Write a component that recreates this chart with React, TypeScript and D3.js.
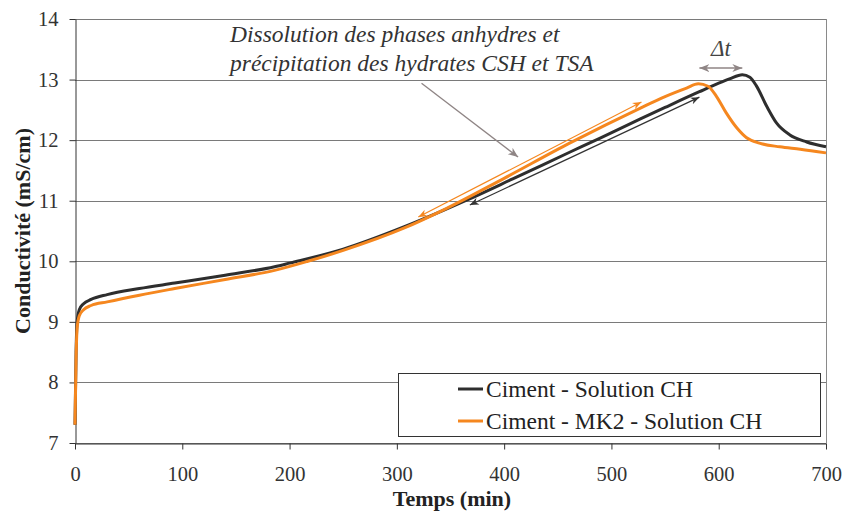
import { useEffect, useRef } from 'react';
import * as d3 from 'd3';

// Ciment - Solution CH
const timeCH = [0, 1, 2, 4, 8, 15, 30, 60, 93, 140, 186, 200, 250, 307, 346, 364, 408, 461, 489, 527, 550, 582, 600, 610, 622, 629, 635, 645, 654, 666, 682, 700];
const condCH = [7.3, 8.5, 9.0, 9.2, 9.3, 9.37, 9.45, 9.55, 9.64, 9.77, 9.91, 9.97, 10.2, 10.57, 10.86, 11.0, 11.36, 11.8, 12.03, 12.35, 12.54, 12.8, 12.94, 13.01, 13.08, 13.04, 12.9, 12.55, 12.28, 12.09, 11.97, 11.89];

// Ciment - MK2 - Solution CH
const timeMK2 = [0, 1, 2, 4, 8, 15, 30, 60, 93, 140, 186, 217, 250, 307, 346, 400, 461, 527, 550, 570, 581, 590, 598, 607, 617, 626, 638, 657, 676, 700];
const condMK2 = [7.3, 8.4, 8.9, 9.1, 9.2, 9.27, 9.33, 9.44, 9.55, 9.7, 9.85, 10.0, 10.18, 10.55, 10.87, 11.37, 11.95, 12.53, 12.72, 12.86, 12.93, 12.89, 12.72, 12.45, 12.2, 12.04, 11.95, 11.89, 11.85, 11.79];

const xTicks = [0, 100, 200, 300, 400, 500, 600, 700];
const yTicks = [7, 8, 9, 10, 11, 12, 13, 14];

const seriesNames = ['Ciment - Solution CH', 'Ciment - MK2 - Solution CH'];
const seriesColors = ['#2e2e2e', '#f5871f'];

const noteLines = ['Dissolution des phases anhydres et', 'précipitation des hydrates CSH et TSA'];

export default function App() {
  const svgRef = useRef<SVGSVGElement>(null);

  useEffect(() => {
    if (!svgRef.current) return;
    const svg = d3.select(svgRef.current);
    svg.selectAll('*').remove();

    const width = 844;
    const height = 513;
    const margin = { top: 19, right: 18, bottom: 70, left: 75 };

    const x = d3.scaleLinear().domain([0, 700]).range([margin.left, width - margin.right]);
    const y = d3.scaleLinear().domain([7, 14]).range([height - margin.bottom, margin.top]);

    const defs = svg.append('defs');
    const addMarker = (id: string, color: string, size: number) => {
      defs.append('marker')
        .attr('id', id)
        .attr('viewBox', '0 -5 10 10')
        .attr('refX', 10)
        .attr('refY', 0)
        .attr('markerWidth', size)
        .attr('markerHeight', size)
        .attr('markerUnits', 'userSpaceOnUse')
        .attr('orient', 'auto-start-reverse')
        .append('path')
        .attr('d', 'M0,-4L10,0L0,4L3,0Z')
        .attr('fill', color);
    };
    addMarker('arr-gray', '#8f8585', 10);
    addMarker('arr-orange', seriesColors[1], 9);
    addMarker('arr-black', '#333', 9);

    // gridlines
    svg.append('g')
      .selectAll('line')
      .data(yTicks)
      .join('line')
      .attr('x1', x(0))
      .attr('x2', x(700))
      .attr('y1', d => Math.round(y(d)) + 0.5)
      .attr('y2', d => Math.round(y(d)) + 0.5)
      .attr('stroke', '#7a7a7a')
      .attr('stroke-width', 1);

    // right border
    svg.append('line')
      .attr('x1', Math.round(x(700)) + 0.5)
      .attr('x2', Math.round(x(700)) + 0.5)
      .attr('y1', y(14))
      .attr('y2', y(7))
      .attr('stroke', '#8a8a8a');

    // axes
    const xAxis = svg.append('g')
      .attr('transform', `translate(0,${Math.round(y(7)) + 0.5})`)
      .call(d3.axisBottom(x).tickValues(xTicks).tickFormat(d3.format('d')).tickSize(6).tickSizeOuter(0).tickPadding(17));
    const yAxis = svg.append('g')
      .attr('transform', `translate(${Math.round(x(0)) + 0.5},0)`)
      .call(d3.axisLeft(y).tickValues(yTicks).tickFormat(d3.format('d')).tickSize(6).tickSizeOuter(0).tickPadding(11));
    [xAxis, yAxis].forEach(g => {
      g.attr('font-family', null).attr('font-size', null);
      g.select('.domain').attr('stroke', '#333');
      g.selectAll('.tick line').attr('stroke', '#333');
      g.selectAll('.tick text')
        .attr('fill', '#333')
        .style('font-size', '20.5px');
    });

    // curves
    const line = d3.line<[number, number]>()
      .x(d => x(d[0]))
      .y(d => y(d[1]))
      .curve(d3.curveMonotoneX);
    const series = [
      timeCH.map((t, i) => [t, condCH[i]] as [number, number]),
      timeMK2.map((t, i) => [t, condMK2[i]] as [number, number]),
    ];
    series.forEach((s, i) => {
      svg.append('path')
        .datum(s)
        .attr('d', line)
        .attr('fill', 'none')
        .attr('stroke', seriesColors[i])
        .attr('stroke-width', 3)
        .attr('stroke-linejoin', 'round');
    });

    // annotation arrows (data coordinates)
    const arrow = (p: [number, number, number, number], color: string, id: string, w: number, both: boolean) => {
      const l = svg.append('line')
        .attr('x1', x(p[0])).attr('y1', y(p[1]))
        .attr('x2', x(p[2])).attr('y2', y(p[3]))
        .attr('stroke', color)
        .attr('stroke-width', w)
        .attr('marker-end', `url(#${id})`);
      if (both) l.attr('marker-start', `url(#${id})`);
    };
    arrow([323, 12.94, 413, 11.72], '#8f8585', 'arr-gray', 1.3, false);
    arrow([320, 10.73, 528, 12.63], seriesColors[1], 'arr-orange', 1.2, true);
    arrow([368, 10.93, 582, 12.71], '#333', 'arr-black', 1.2, true);
    arrow([582, 13.19, 622, 13.19], '#8f8585', 'arr-gray', 1.5, true);

    svg.append('text')
      .attr('x', x(602))
      .attr('y', 56)
      .attr('text-anchor', 'middle')
      .style('font-style', 'italic')
      .style('font-size', '23px')
      .attr('fill', '#444')
      .text('Δt');

    svg.append('g')
      .selectAll('text')
      .data(noteLines)
      .join('text')
      .attr('x', 230)
      .attr('y', (_, i) => 42 + i * 29)
      .style('font-style', 'italic')
      .style('font-size', '23.5px')
      .attr('fill', '#333')
      .text(d => d);

    // legend
    const lg = svg.append('g').attr('transform', 'translate(398,373)');
    lg.append('rect')
      .attr('x', 0.5).attr('y', 0.5)
      .attr('width', 422).attr('height', 63)
      .attr('fill', 'white')
      .attr('stroke', '#333');
    seriesNames.forEach((name, i) => {
      const row = lg.append('g').attr('transform', `translate(0,${16 + i * 32})`);
      row.append('line')
        .attr('x1', 60).attr('x2', 85)
        .attr('stroke', seriesColors[i])
        .attr('stroke-width', 3);
      row.append('text')
        .attr('x', 88)
        .attr('y', 8)
        .style('font-size', '23.5px')
        .attr('fill', '#222')
        .text(name);
    });

    // axis titles
    svg.append('text')
      .attr('x', 452)
      .attr('y', 506)
      .attr('text-anchor', 'middle')
      .style('font-weight', 'bold')
      .style('font-size', '22px')
      .attr('fill', '#222')
      .text('Temps (min)');

    svg.append('text')
      .attr('transform', `translate(30,${(y(7) + y(14)) / 2}) rotate(-90)`)
      .attr('text-anchor', 'middle')
      .style('font-weight', 'bold')
      .style('font-size', '22px')
      .attr('fill', '#222')
      .text('Conductivité (mS/cm)');
  }, []);

  return (
    <svg
      ref={svgRef}
      width={844}
      height={513}
      style={{
        position: 'absolute',
        left: 0,
        top: 0,
        background: 'white',
        fontFamily: "'Liberation Serif', 'DejaVu Serif', serif",
      }}
    />
  );
}
